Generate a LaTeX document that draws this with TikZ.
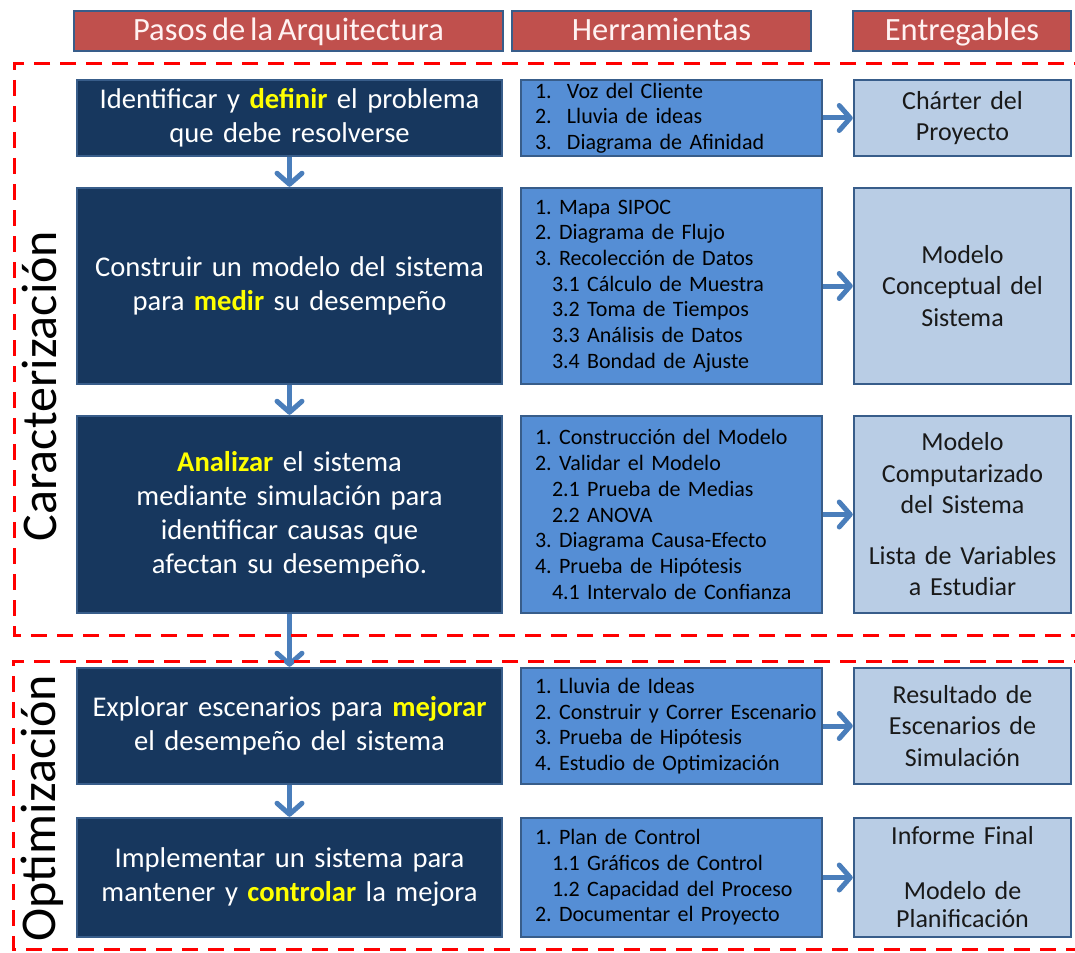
\documentclass[tikz,border=0pt]{standalone}
\usepackage{fontspec}
\setmainfont{Carlito}[WordSpace=0.65]
\usetikzlibrary{arrows.meta}
\frenchspacing

\definecolor{stepnavy}{HTML}{17375E}
\definecolor{frameblue}{HTML}{385D8A}
\definecolor{toolblue}{HTML}{558ED5}
\definecolor{outblue}{HTML}{B9CDE5}
\definecolor{headred}{HTML}{C0504D}
\definecolor{flowblue}{HTML}{4A7EBB}
\definecolor{keyyellow}{HTML}{FFFF00}
\definecolor{phasered}{HTML}{FF0000}

% highlighted verb inside a step box
\newcommand{\kw}[1]{\textbf{\textcolor{keyyellow}{#1}}}
% numbered list entries of the tool boxes
\newcommand{\toolnum}[1]{\makebox[32pt][l]{#1}}
\newcommand{\toolsub}[1]{\hspace*{17pt}#1}

\begin{document}
\begin{tikzpicture}[x=1pt,y=-1pt,
  header/.style={draw=frameblue, line width=2pt, fill=headred, text=white!95!red,
    inner sep=0pt, minimum height=40pt, text height=24pt, text depth=4pt,
    font=\fontsize{32.5}{36}\selectfont},
  stepbox/.style={draw=frameblue, line width=2.5pt, fill=stepnavy, text=white,
    align=center, text width=415pt, inner xsep=5pt, inner ysep=0pt,
    minimum width=424.5pt, font=\fontsize{28.6}{34}\selectfont},
  toolbox/.style={draw=frameblue, line width=2.5pt, fill=toolblue, text=black,
    align=left, text width=273pt, inner xsep=14pt, inner ysep=0pt,
    minimum width=300.5pt, font=\fontsize{22}{25.7}\selectfont},
  outbox/.style={draw=frameblue, line width=2.5pt, fill=outblue, text=black!90,
    align=center, text width=205pt, inner xsep=6pt, inner ysep=0pt,
    minimum width=216.5pt, font=\fontsize{26}{31.5}\selectfont},
  flow/.style={draw=flowblue, line width=5pt,
    -{Straight Barb[length=11pt,width=25pt,round]}},
  phase/.style={draw=phasered, line width=3pt, dash pattern=on 16pt off 10pt},
  phaselabel/.style={rotate=90, anchor=base, inner sep=0pt, text=black,
    font=\fontsize{50}{50}\selectfont}
]
\useasboundingbox (0,0) rectangle (1075,952);

% column headers
\node[header, minimum width=429pt] (h1) at (288.5,31) {Pasos de la Arquitectura};
\node[header, minimum width=299pt] (h2) at (661.5,31) {Herramientas};
\node[header, minimum width=218pt] (h3) at (962,31) {Entregables};

% architecture steps
\node[stepbox, minimum height=76pt] (s1) at (289.5,118)
  {Identificar y \kw{definir} el problema\\que debe resolverse};
\node[stepbox, minimum height=196pt] (s2) at (289.5,286)
  {Construir un modelo del sistema\\para \kw{medir} su desempeño};
\node[stepbox, minimum height=197pt] (s3) at (289.5,514.5)
  {\kw{Analizar} el sistema\\mediante simulación para\\identificar causas que\\afectan su desempeño.};
\node[stepbox, minimum height=116pt] (s4) at (289.5,726)
  {Explorar escenarios para \kw{mejorar}\\el desempeño del sistema};
\node[stepbox, minimum height=119pt] (s5) at (289.5,877.5)
  {Implementar un sistema para\\mantener y \kw{controlar} la mejora};

% tools
\node[toolbox, minimum height=76pt] (t1) at (671.5,118)
  {\toolnum{1.}Voz del Cliente\\\toolnum{2.}Lluvia de ideas\\\toolnum{3.}Diagrama de Afinidad};
\node[toolbox, minimum height=196pt] (t2) at (671.5,286)
  {1. Mapa SIPOC\\2. Diagrama de Flujo\\3. Recolección de Datos\\
   \toolsub{3.1 Cálculo de Muestra}\\\toolsub{3.2 Toma de Tiempos}\\
   \toolsub{3.3 Análisis de Datos}\\\toolsub{3.4 Bondad de Ajuste}};
\node[toolbox, minimum height=197pt] (t3) at (671.5,514.5)
  {1. Construcción del Modelo\\2. Validar el Modelo\\\toolsub{2.1 Prueba de Medias}\\
   \toolsub{2.2 ANOVA}\\3. Diagrama Causa-Efecto\\4. Prueba de Hipótesis\\
   \toolsub{4.1 Intervalo de Confianza}};
\node[toolbox, minimum height=116pt] (t4) at (671.5,726)
  {1. Lluvia de Ideas\\\mbox{2. Construir y Correr Escenario}\\3. Prueba de Hipótesis\\4. Estudio de Optimización};
\node[toolbox, minimum height=119pt] (t5) at (671.5,877.5)
  {1. Plan de Control\\\toolsub{1.1 Gráficos de Control}\\\toolsub{1.2 Capacidad del Proceso}\\2. Documentar el Proyecto};

% deliverables
\node[outbox, minimum height=76pt] (o1) at (962.5,118) {Chárter del\\Proyecto};
\node[outbox, minimum height=196pt] (o2) at (962.5,286) {Modelo\\Conceptual del\\Sistema};
\node[outbox, minimum height=197pt] (o3) at (962.5,514.5)
  {Modelo\\Computarizado\\del Sistema\\[19pt]Lista de Variables\\a Estudiar};
\node[outbox, minimum height=116pt] (o4) at (962.5,726) {Resultado de\\Escenarios de\\Simulación};
\node[outbox, minimum height=119pt, font=\fontsize{26}{28}\selectfont] (o5) at (962.5,877.5)
  {Informe Final\\[27pt]Modelo de\\Planificación};

% flow between steps
\draw[flow] (s1.south) -- (s2.north);
\draw[flow] (s2.south) -- (s3.north);
\draw[flow] (s3.south) -- (s4.north);
\draw[flow] (s4.south) -- (s5.north);

% tools lead to deliverables
\draw[flow] (t1.east) -- (o1.west);
\draw[flow] (t2.east) -- (o2.west);
\draw[flow] (t3.east) -- (o3.west);
\draw[flow] (t4.east) -- (o4.west);
\draw[flow] (t5.east) -- (o5.west);

% phase frames
\draw[phase] (1090,64) -- (14,64) -- (14,635) -- (1090,635);
\draw[phase] (1090,661) -- (13,661) -- (13,949) -- (1090,949);

\node[phaselabel] (p1) at (56,386) {Caracterización};
\node[phaselabel] (p2) at (55,808) {Optimización};
\end{tikzpicture}
\end{document}
